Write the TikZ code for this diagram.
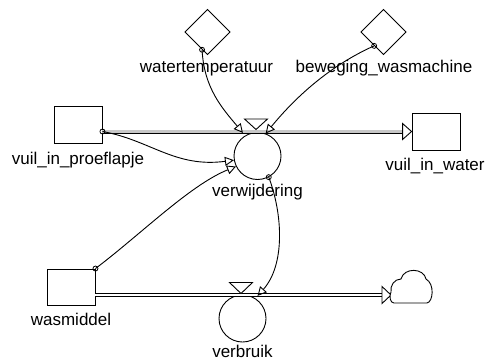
\documentclass[tikz,border=0pt]{standalone}
\usepackage{fontspec}
\setmainfont{Liberation Sans}
\usetikzlibrary{arrows.meta,calc,shapes.geometric}

\begin{document}
\begin{tikzpicture}[x=1pt,y=-1pt,
  stock/.style={draw, line width=0.9pt, minimum width=48pt, minimum height=37pt, inner sep=0pt},
  rate/.style={circle, draw, line width=0.9pt, minimum size=47pt, inner sep=0pt},
  aux/.style={diamond, draw, line width=0.9pt, aspect=1, minimum size=45.5pt, inner sep=0pt},
  lbl/.style={font=\fontsize{17}{20}\selectfont, anchor=base, inner sep=0pt},
  link/.style={line width=0.9pt, -{Triangle[open, length=9pt, width=9pt, line width=0.9pt]}},
  linkdot/.style={circle, draw, line width=0.8pt, minimum size=5pt, inner sep=0pt},
  pipe/.style={line width=0.9pt, double distance=2.2pt},
  pipehead/.style={line width=0.9pt, fill=white},
  valve/.style={line width=0.9pt, fill=white}]

\fill[white] (0,0) rectangle (489,361);
\useasboundingbox (0,0) rectangle (489,361);

% stocks, rates and auxiliaries
\node[stock] (vp) at (78,124.5) {};
\node[stock] (vw) at (436,131.5) {};
\node[stock, minimum height=36pt] (wm) at (71,287) {};
\node[rate] (verw) at (257.5,156) {};
\node[rate] (verb) at (242.5,318.5) {};
\node[aux] (wt) at (207.5,32) {};
\node[aux] (bw) at (383.5,32) {};

% pipe ends
\coordinate (vpout) at (vp.east |- vw.west);
\coordinate (cl) at (391,295);
\coordinate (wmout) at (wm.east |- cl);

% flow pipes
\draw[pipe, double=black!22] (vpout) -- ($(vw.west)+(-9,0)$);
\draw[pipehead] (vw.west) -- ++(-9,-8) -- ++(0,16) -- cycle;
\draw[pipe, double=white] (wmout) -- ($(cl)+(-9,0)$);
\draw[pipehead] (cl) -- ++(-9,-8.5) -- ++(0,17) -- cycle;

% valves
\draw[valve] ($(verw.center)+(-1.5,-26.5)$) -- ++(-11.5,-10.5) -- ++(23,0) -- cycle;
\draw[valve] ($(verb.center)+(-1.5,-25)$) -- ++(-11.5,-11) -- ++(23,0) -- cycle;

% cloud (sink)
\draw[line width=0.9pt, fill=white] (394,303) -- (427,303)
  .. controls (433,302) and (435,284) .. (426,279)
  .. controls (424,268) and (404,267) .. (401,279)
  .. controls (394,279) and (390,286) .. (391,292)
  .. controls (389,296) and (390,303) .. (394,303) -- cycle;

% labels
\node[lbl] (wtl) at (206.5,72.7) {watertemperatuur};
\node[lbl] (bwl) at (384,72.7) {beweging\_wasmachine};
\node[lbl] (vpl) at (78,164) {vuil\_in\_proeflapje};
\node[lbl] (vwl) at (435,170) {vuil\_in\_water};
\node[lbl] (verwl) at (257.5,196) {verwijdering};
\node[lbl] (wml) at (71,325) {wasmiddel};
\node[lbl] (verbl) at (242.5,357.5) {verbruik};

% information links
\draw[link] (wt.253) .. controls (204,88) and (222,108) .. ([shift={(-1.5,-3)}]verw.123);
\draw[link] (bw.236) .. controls (320,70) and (285,110) .. (verw.70);
\draw[link] (vpout) .. controls (150,140) and (175,168) .. (verw.190);
\draw[link] (wm.north east) .. controls (140,235) and (190,185) .. (verw.206);
\draw[link] (verw.-62) .. controls (283,215) and (285,265) .. ([shift={(2,-2.5)}]verb.57);

% link origins
\node[linkdot] (d1) at (wt.253) {};
\node[linkdot] (d2) at (bw.236) {};
\node[linkdot] (d3) at (vpout) {};
\node[linkdot] (d4) at (wm.north east) {};
\node[linkdot] (d5) at (verw.-62) {};
\end{tikzpicture}
\end{document}
